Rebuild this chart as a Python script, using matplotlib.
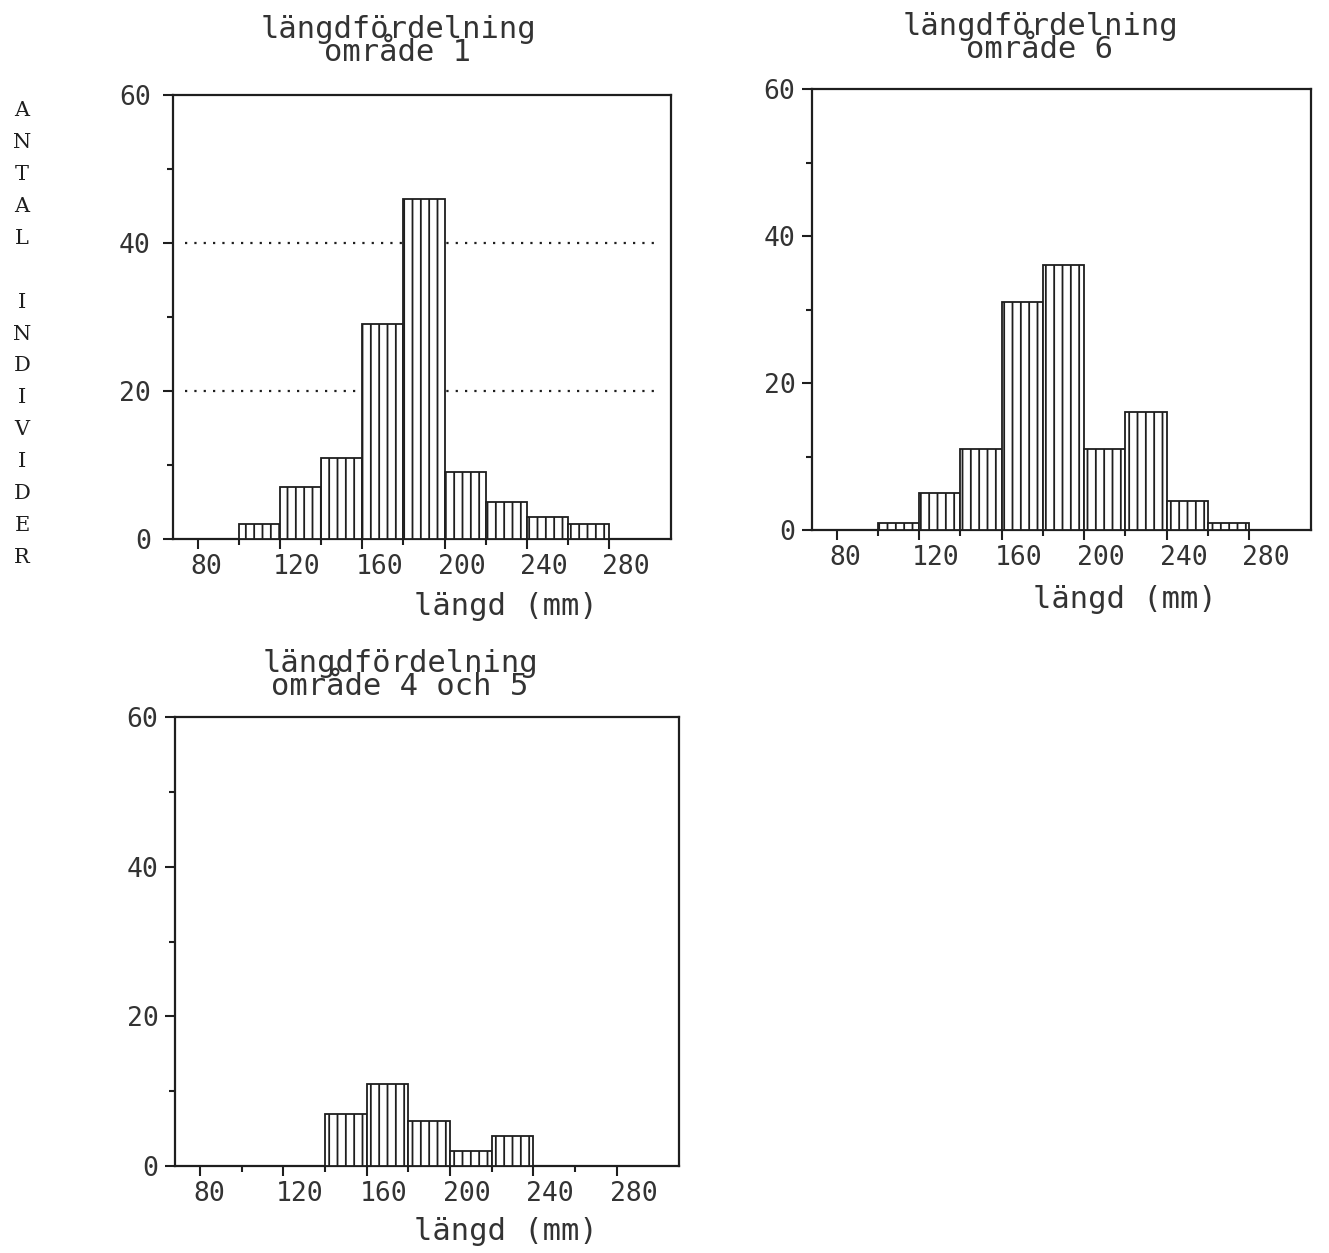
import matplotlib.pyplot as plt
from matplotlib.transforms import ScaledTranslation

W, H = 1329, 1253

# längdklasser (mm): vänsterkant för varje stapel, klassbredd 20 mm
klass_start = [100, 120, 140, 160, 180, 200, 220, 240, 260]
klass_bredd = 20

# antal individer per längdklass
antal_omr1 = [2, 7, 11, 29, 46, 9, 5, 3, 2]
antal_omr6 = [1, 5, 11, 31, 36, 11, 16, 4, 1]
antal_omr45 = [0, 0, 7, 11, 6, 2, 4, 0, 0]

x_ticks = [80, 120, 160, 200, 240, 280]
x_minor = [100, 140, 180, 220, 260]
y_ticks = [0, 20, 40, 60]
y_minor = [10, 30, 50]
stodlinjer = [20, 40]   # prickade linjer, bara område 1

INK = '#1e1e1e'
TXT = '#333333'
MONO = 'DejaVu Sans Mono'

plt.rcParams['font.family'] = MONO
plt.rcParams['hatch.color'] = INK
plt.rcParams['hatch.linewidth'] = 1.3

fig = plt.figure(figsize=(W / 100, H / 100), dpi=100)


def px(x, y):
    # pixel (från övre vänstra hörnet) -> figurkoordinater
    return x / W, 1 - y / H


def panel(box, antal, rubrik, rub_pos, xlab_pos, ypad, prickar=False):
    left, top, right, bottom = box
    x0, y1 = px(left, top)
    x1, y0 = px(right, bottom)
    ax = fig.add_axes([x0, y0, x1 - x0, y1 - y0])

    ax.bar(klass_start, antal, width=klass_bredd, align='edge',
           color='white', edgecolor=INK, linewidth=1.3, hatch='||', zorder=3)
    if prickar:
        ax.hlines(stodlinjer, 74, 304, colors=INK, linestyles=(0, (1, 3.2)),
                  linewidth=1.6, zorder=1)

    ax.set_xlim(68, 310)
    ax.set_ylim(0, 60)
    ax.set_xticks(x_ticks)
    ax.set_xticks(x_minor, minor=True)
    ax.set_yticks(y_ticks)
    ax.set_yticks(y_minor, minor=True)
    for s in ax.spines.values():
        s.set_linewidth(1.6)
        s.set_color(INK)

    ax.tick_params(which='both', direction='out', color=INK, width=1.5,
                   labelsize=19, labelcolor=TXT)
    ax.tick_params(which='major', length=7)
    ax.tick_params(which='minor', length=4)
    ax.tick_params(axis='y', pad=ypad)
    ax.tick_params(axis='x', pad=4)

    # x-etiketterna börjar strax till vänster om sin tick
    flytt = ScaledTranslation(-7 / 100, 0, fig.dpi_scale_trans)
    for lbl in ax.get_xticklabels():
        lbl.set_horizontalalignment('left')
        lbl.set_transform(lbl.get_transform() + flytt)

    # rubrik på två rader, tätt radavstånd
    fig.text(*px(*rub_pos), 'längdfördelning\n' + rubrik, ha='center',
             va='baseline', fontsize=22, color=TXT, linespacing=0.74)
    fig.text(*px(*xlab_pos), 'längd (mm)', ha='center', va='center',
             fontsize=22, color=TXT)
    return ax


# rub_pos = (mitt, baslinje för andra raden)
panel((173, 95, 671, 539), antal_omr1, 'område 1', (398, 61),
      (506, 606), ypad=9, prickar=True)

panel((812, 89, 1311, 530), antal_omr6, 'område 6', (1040, 58),
      (1125, 600), ypad=5)

panel((175, 717, 679, 1166), antal_omr45, 'område 4 och 5', (400, 695),
      (506, 1232), ypad=5)

# gemensam y-etikett, bokstäverna staplade lodrätt
fig.text(*px(22, 334), '\n'.join('ANTAL INDIVIDER'), ha='center',
         va='center', family='DejaVu Serif', fontsize=15, color=INK,
         linespacing=1.86)

fig.savefig('out.png', dpi=100, facecolor='white')
